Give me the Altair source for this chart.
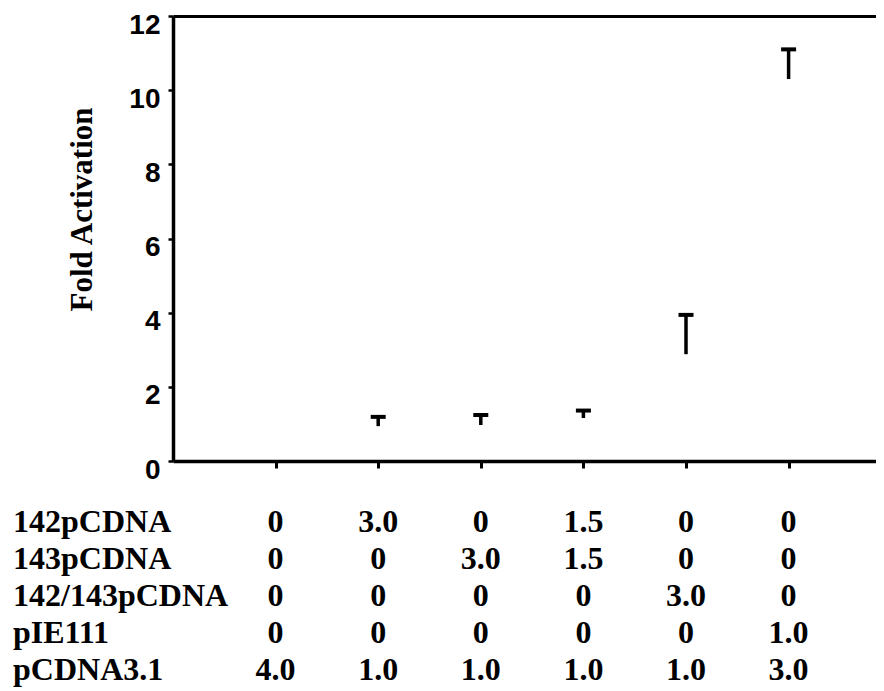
import altair as alt
import pandas as pd

# ---- data ----
cats = [1, 2, 3, 4, 5, 6]
means = [1.0, 0.94, 0.97, 1.16, 2.88, 10.30]
uppers = [None, 1.19, 1.24, 1.36, 3.94, 11.10]

row_names = ["142pCDNA", "143pCDNA", "142/143pCDNA", "pIE111", "pCDNA3.1"]
row_142 = ["0", "3.0", "0", "1.5", "0", "0"]
row_143 = ["0", "0", "3.0", "1.5", "0", "0"]
row_142_143 = ["0", "0", "0", "0", "3.0", "0"]
row_pIE111 = ["0", "0", "0", "0", "0", "1.0"]
row_pCDNA31 = ["4.0", "1.0", "1.0", "1.0", "1.0", "3.0"]

y_ticks = [0, 2, 4, 6, 8, 10, 12]

# ---- tables ----
bars = pd.DataFrame({"cat": cats, "mean": means, "upper": uppers})
errs = bars.dropna(subset=["upper"])

table_rows = [row_142, row_143, row_142_143, row_pIE111, row_pCDNA31]
tbl = pd.DataFrame(
    [{"row": rn, "col": c, "val": v}
     for rn, vals in zip(row_names, table_rows)
     for c, v in zip(cats, vals)]
)
lbl = pd.DataFrame({"row": row_names})

W, H = 703, 445
XDOM = [0, 703 / 102.6]
xscale = alt.Scale(domain=XDOM, nice=False, zero=False, padding=0)
yscale = alt.Scale(domain=[0, 12], nice=False, padding=0)

x_bottom = alt.X(
    "cat:Q", scale=xscale,
    axis=alt.Axis(orient="bottom", values=cats, labels=False, title=None,
                  tickSize=7, tickWidth=3, tickColor="black",
                  domainWidth=3.5, domainColor="black", grid=False, zindex=1),
)
x_top = alt.X(
    "cat:Q", scale=xscale,
    axis=alt.Axis(orient="top", labels=False, ticks=False, title=None,
                  domainWidth=3, domainColor="black", grid=False, zindex=1),
)
y_main = alt.Y(
    "mean:Q", scale=yscale,
    axis=alt.Axis(
        values=y_ticks, title="Fold Activation", grid=False,
        titleFont="Liberation Serif", titleFontSize=31, titleFontWeight="bold",
        titleColor="black", titleAngle=270, titleX=-91, titleY=193,
        titleAlign="center", titleBaseline="middle",
        labelFont="Liberation Sans", labelFontSize=28, labelFontWeight="bold",
        labelColor="black", labelPadding=8, labelOffset=9,
        tickSize=5, tickWidth=2.5, tickColor="black",
        domainWidth=3.5, domainColor="black", zindex=1,
    ),
)

bar_layer = alt.Chart(bars).mark_bar(color="white", size=40).encode(
    x=x_bottom, y=y_main
)

stem = alt.Chart(errs).mark_rule(color="black", strokeWidth=3.5).encode(
    x=x_top,
    y=alt.Y("mean:Q", scale=yscale, axis=None),
    y2="upper:Q",
)

cap = alt.Chart(errs).mark_tick(color="black", orient="horizontal", opacity=1,
                                thickness=4, size=15).encode(
    x=alt.X("cat:Q", scale=xscale, axis=None),
    y=alt.Y("upper:Q", scale=yscale, axis=None),
)

row_scale = alt.Scale(domain=row_names, type="point", range=[516, 664], padding=0)

table_vals = alt.Chart(tbl).mark_text(
    font="Liberation Serif", fontSize=32, fontWeight="bold", color="black",
    align="center", baseline="alphabetic",
).encode(
    x=alt.X("col:Q", scale=xscale, axis=None),
    y=alt.Y("row:N", scale=row_scale, axis=None),
    text="val:N",
)

table_lbls = alt.Chart(lbl).mark_text(
    font="Liberation Serif", fontSize=32, fontWeight="bold", color="black",
    align="left", baseline="alphabetic",
).encode(
    x=alt.value(-160),
    y=alt.Y("row:N", scale=row_scale, axis=None),
    text="row:N",
)

chart = (
    alt.layer(bar_layer, stem, cap, table_vals, table_lbls)
    .resolve_axis(x="independent")
    .resolve_scale(y="independent")
    .properties(
        width=W, height=H,
        autosize=alt.AutoSizeParams(type="none"),
        padding={"left": 165, "top": 8, "right": 0, "bottom": 230},
        background="white",
    )
    .configure_view(stroke=None)
)

chart.save("out.html", embed_options={"renderer": "svg", "actions": False})
